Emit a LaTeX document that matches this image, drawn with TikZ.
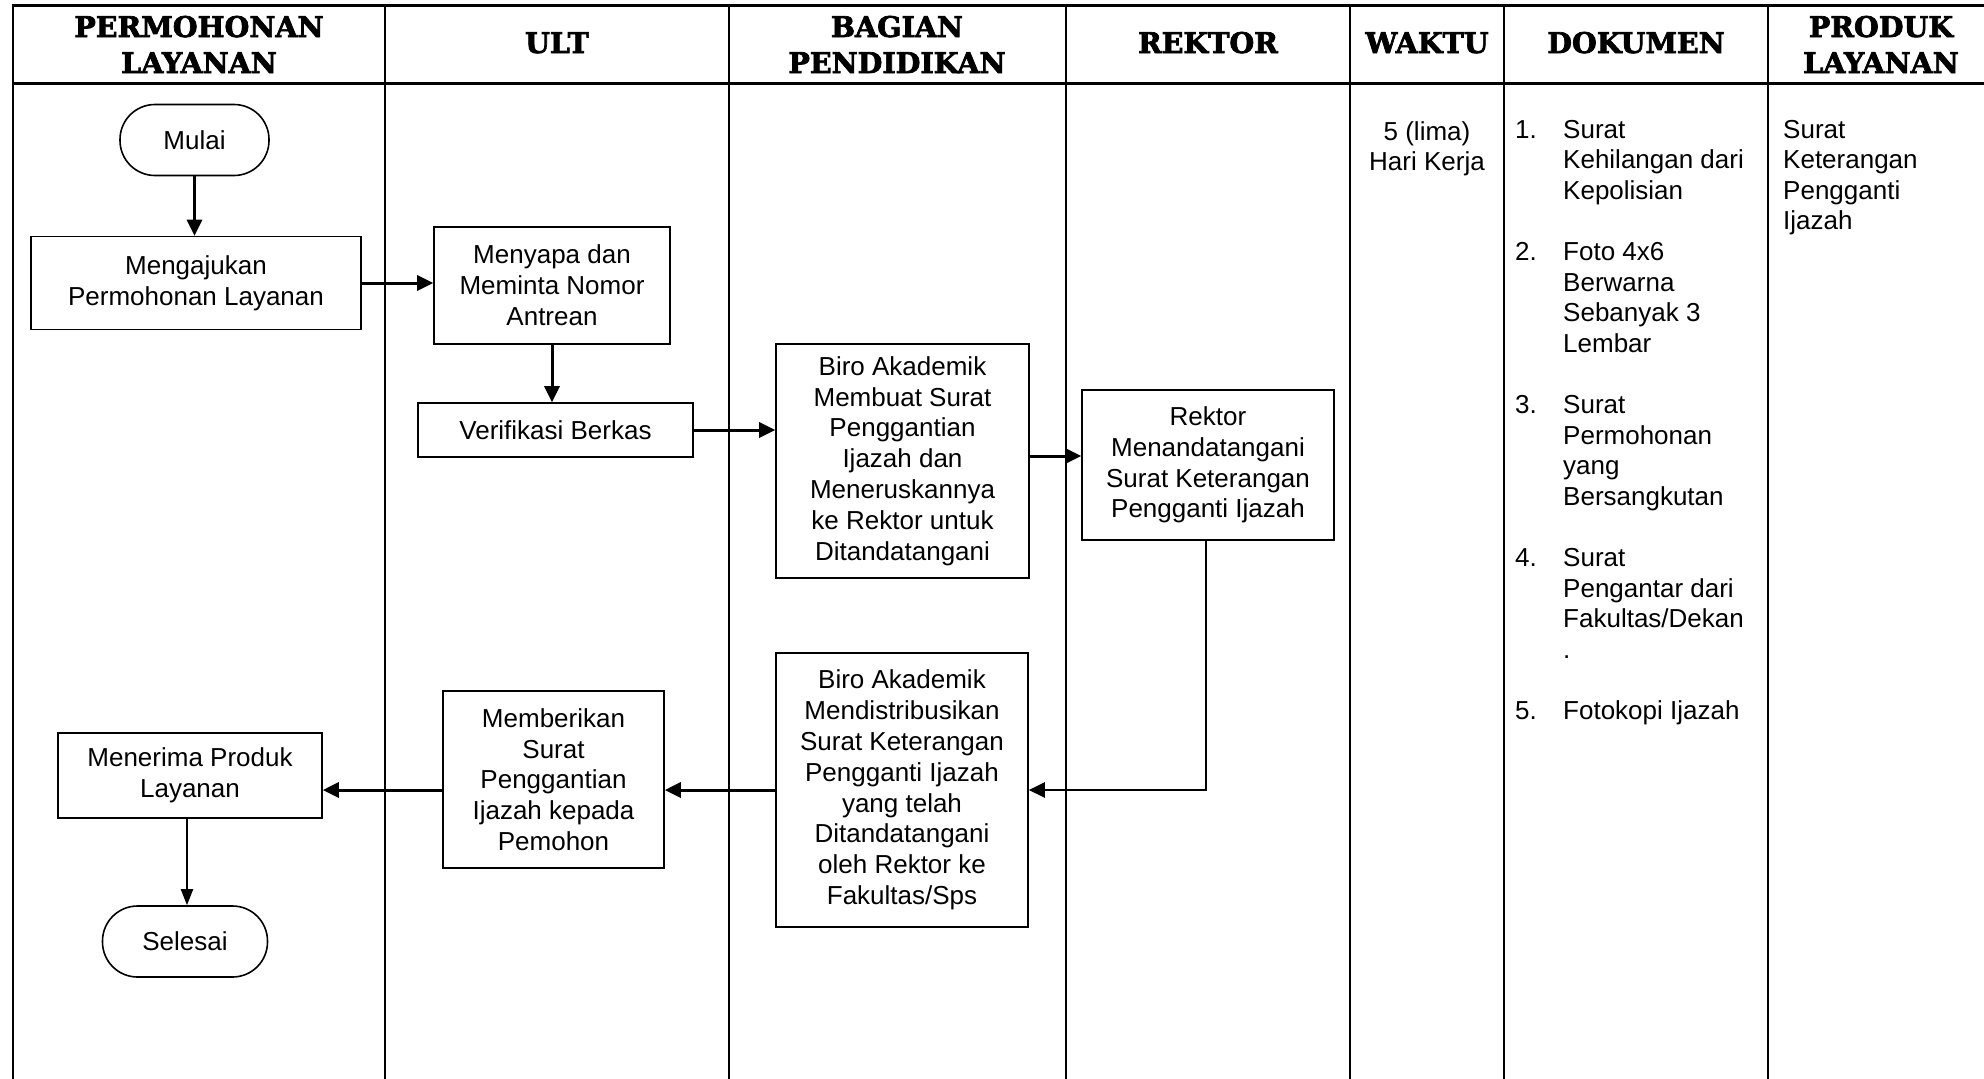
\documentclass[tikz,border=0pt]{standalone}
\usepackage{fontspec}
\setmainfont{Liberation Sans}
\newfontfamily\hdrfamily{DejaVu Serif}[UprightFont={* Bold}, FakeBold=2.5]
\usetikzlibrary{arrows.meta}
\newcommand\flowsize{\fontsize{26}{30.8}\selectfont}
\newcommand\colsize{\fontsize{26}{30.6}\selectfont}
\newcommand\hdrsize{\hdrfamily\fontsize{28.5}{36}\selectfont}
\begin{document}
\begin{tikzpicture}[x=1pt,y=-1pt,
  proc/.style={draw, line width=1.6pt, rectangle, inner sep=0pt, align=center, font=\flowsize},
  term/.style={proc, rounded corners=35pt},
  flow/.style={line width=3pt, -{Triangle[length=16pt,width=15pt]}},
  flowthin/.style={line width=2pt, -{Triangle[length=16pt,width=12pt]}},
  lane/.style={line width=2.5pt},
  rule/.style={line width=3pt},
  hdr/.style={inner sep=0pt, font=\hdrsize},
  txt/.style={inner sep=0pt, font=\colsize}]
\useasboundingbox (0,0) rectangle (1984,1079);

% table frame
\draw[rule] (11.5,5) -- (1984,5);
\draw[rule] (13,83) -- (1984,83);
\foreach \x in {13,385,729,1066,1350,1504,1768}
  \draw[lane] (\x,5) -- (\x,1079);

% headers
\node[hdr, anchor=base] (h1) at (199,37) {\begin{tabular}[t]{@{}c@{}}PERMOHONAN\\LAYANAN\end{tabular}};
\node[hdr, anchor=base] (h2) at (557,53) {ULT};
\node[hdr, anchor=base] (h3) at (897,37) {\begin{tabular}[t]{@{}c@{}}BAGIAN\\PENDIDIKAN\end{tabular}};
\node[hdr, anchor=base] (h4) at (1208,53) {REKTOR};
\node[hdr, anchor=base] (h5) at (1427,53) {WAKTU};
\node[hdr, anchor=base] (h6) at (1636,53) {DOKUMEN};
\node[hdr, anchor=base] (h7) at (1881,37) {\begin{tabular}[t]{@{}c@{}}PRODUK\\LAYANAN\end{tabular}};

% flow nodes
\node[term, minimum width=149pt, minimum height=71pt] (mulai) at (194.5,140) {Mulai};
\node[proc, minimum width=330pt, minimum height=93pt] (ajukan) at (196,283) {Mengajukan\\Permohonan Layanan};
\node[proc, minimum width=236pt, minimum height=117pt] (menyapa) at (552,285.5) {Menyapa dan\\Meminta Nomor\\Antrean};
\node[proc, minimum width=275pt, minimum height=54pt] (verif) at (555.5,430) {Verifikasi Berkas};
\node[proc, minimum width=253pt, minimum height=234pt] (biro1) at (902.5,461) {Biro Akademik\\Membuat Surat\\Penggantian\\Ijazah dan\\Meneruskannya\\ke Rektor untuk\\Ditandatangani};
\node[proc, minimum width=252pt, minimum height=150pt] (rektor) at (1208,465) {Rektor\\Menandatangani\\Surat Keterangan\\Pengganti Ijazah};
\node[proc, minimum width=252pt, minimum height=274pt] (biro2) at (902,790) {Biro Akademik\\Mendistribusikan\\Surat Keterangan\\Pengganti Ijazah\\yang telah\\Ditandatangani\\oleh Rektor ke\\Fakultas/Sps};
\node[proc, minimum width=221pt, minimum height=177pt] (memberi) at (553.5,779.5) {Memberikan\\Surat\\Penggantian\\Ijazah kepada\\Pemohon};
\node[proc, minimum width=264pt, minimum height=85pt] (menerima) at (190,775.5) {Menerima Produk\\Layanan};
\node[term, minimum width=165pt, minimum height=71pt] (selesai) at (185,941.5) {Selesai};

% connectors
\coordinate (r1) at (0,456);
\coordinate (r2) at (1206,790);
\coordinate (sx) at (187,0);
\draw[flow] (mulai.south) -- (mulai.south |- ajukan.north);
\draw[flow] (ajukan.east) -- (ajukan.east -| menyapa.west);
\draw[flow] (menyapa.south) -- (menyapa.south |- verif.north);
\draw[flow] (verif.east) -- (verif.east -| biro1.west);
\draw[flow] (biro1.east |- r1) -- (rektor.west |- r1);
\draw[flow, line width=2.4pt] (rektor.south -| r2) |- (biro2.east |- r2);
\draw[flow] (biro2.west |- r2) -- (memberi.east |- r2);
\draw[flow] (memberi.west |- r2) -- (menerima.east |- r2);
\draw[flowthin] (menerima.south -| sx) -- (selesai.north -| sx);

% column texts
\node[txt, anchor=base] (waktu) at (1427,140) {\begin{tabular}[t]{@{}c@{}}5 (lima)\\Hari Kerja\end{tabular}};
\node[txt, anchor=base west] (dok) at (1515,138) {\begin{tabular}[t]{@{}p{48pt}@{}l@{}}
1.&Surat\\ &Kehilangan dari\\ &Kepolisian\\ & \\
2.&Foto 4x6\\ &Berwarna\\ &Sebanyak 3\\ &Lembar\\ & \\
3.&Surat\\ &Permohonan\\ &yang\\ &Bersangkutan\\ & \\
4.&Surat\\ &Pengantar dari\\ &Fakultas/Dekan\\ &.\\ & \\
5.&Fotokopi Ijazah
\end{tabular}};
\node[txt, anchor=base west] (produk) at (1783,138) {\begin{tabular}[t]{@{}l@{}}Surat\\Keterangan\\Pengganti\\Ijazah\end{tabular}};
\end{tikzpicture}
\end{document}
